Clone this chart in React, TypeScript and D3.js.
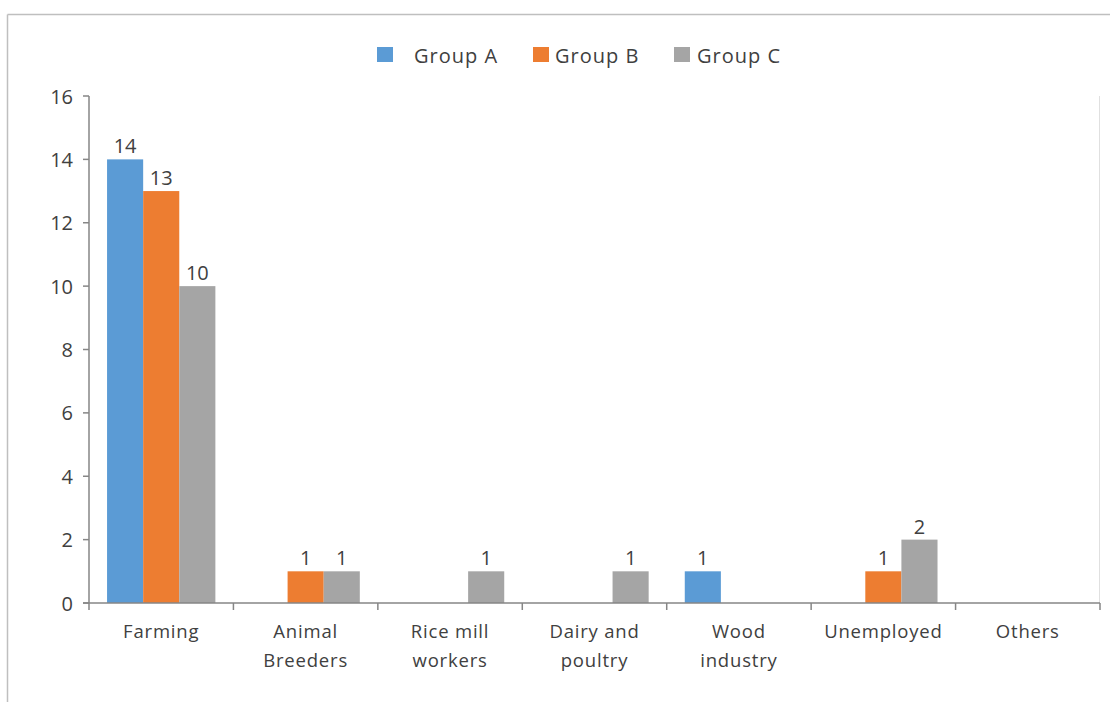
import React from "react";
import * as d3 from "d3";

const categories = ["Farming", "Animal\nBreeders", "Rice mill\nworkers", "Dairy and\npoultry", "Wood\nindustry", "Unemployed", "Others"];
const seriesNames = ["Group A", "Group B", "Group C"];
const groupA = [14, 0, 0, 0, 1, 0, 0];
const groupB = [13, 1, 0, 0, 0, 1, 0];
const groupC = [10, 1, 1, 1, 0, 2, 0];
const colors = ["#5b9bd5", "#ed7d31", "#a5a5a5"];
const yTicks = [0, 2, 4, 6, 8, 10, 12, 14, 16];

const W = 1110, H = 702;
const left = 89, right = 1100, top = 96, bottom = 603;
const FONT = "'Open Sans', 'Noto Sans', sans-serif";

export default function App() {
  const series = [groupA, groupB, groupC];
  const x = d3.scaleBand<string>().domain(categories).range([left, right]).paddingInner(0).paddingOuter(0);
  const inner = d3.scaleBand<string>().domain(seriesNames).range([0, x.bandwidth()]).paddingInner(0).paddingOuter(0.5);
  const y = d3.scaleLinear().domain([0, 16]).range([bottom, top]);
  const tickCats = [...categories.map((c) => x(c)!), right];

  const legend = [
    { sx: 377, tx: 414 },
    { sx: 533, tx: 555 },
    { sx: 674, tx: 697 },
  ];

  return (
    <svg width={W} height={H} style={{ position: "absolute", left: 0, top: 0 }}>
      <rect x={0} y={0} width={W} height={H} fill="#fff" />
      <line x1={7.5} y1={14.5} x2={W} y2={14.5} stroke="#bfbfbf" strokeWidth={1.5} />
      <line x1={7.5} y1={14.5} x2={7.5} y2={H} stroke="#bfbfbf" strokeWidth={1.5} />
      <line x1={right - 0.5} y1={top} x2={right - 0.5} y2={bottom} stroke="#e0e0e0" strokeWidth={1} />

      {seriesNames.map((s, i) => (
        <g key={s}>
          <rect x={legend[i].sx} y={47} width={16} height={15} fill={colors[i]} />
          <text x={legend[i].tx} y={55} dominantBaseline="central" fontFamily={FONT} fontSize={20} letterSpacing={1} fill="#404040">{s}</text>
        </g>
      ))}

      {series.map((vals, si) =>
        vals.map((v, ci) =>
          v > 0 ? (
            <g key={`${si}-${ci}`}>
              <rect
                x={x(categories[ci])! + inner(seriesNames[si])!}
                y={y(v)}
                width={inner.bandwidth()}
                height={y(0) - y(v)}
                fill={colors[si]}
              />
              <text
                x={x(categories[ci])! + inner(seriesNames[si])! + inner.bandwidth() / 2}
                y={y(v) - 6}
                textAnchor="middle"
                fontFamily={FONT}
                fontSize={20}
                fill="#404040"
              >
                {v}
              </text>
            </g>
          ) : null
        )
      )}

      <line x1={left} y1={top} x2={left} y2={bottom} stroke="#868686" strokeWidth={1.5} />
      {yTicks.map((t) => (
        <g key={t}>
          <line x1={left - 6} y1={y(t)} x2={left} y2={y(t)} stroke="#868686" strokeWidth={1.5} />
          <text x={left - 16} y={y(t)} textAnchor="end" dominantBaseline="central" fontFamily={FONT} fontSize={20} fill="#404040">{t}</text>
        </g>
      ))}

      <line x1={left - 6} y1={bottom} x2={right} y2={bottom} stroke="#868686" strokeWidth={1.5} />
      {tickCats.map((tx, i) => (
        <line key={i} x1={tx} y1={bottom} x2={tx} y2={bottom + 7} stroke="#868686" strokeWidth={1.5} />
      ))}
      {categories.map((c) => (
        <text key={c} textAnchor="middle" fontFamily={FONT} fontSize={18.5} letterSpacing={0.8} fill="#404040">
          {c.split("\n").map((line, li) => (
            <tspan key={li} x={x(c)! + x.bandwidth() / 2} y={638 + li * 29}>{line}</tspan>
          ))}
        </text>
      ))}
    </svg>
  );
}
